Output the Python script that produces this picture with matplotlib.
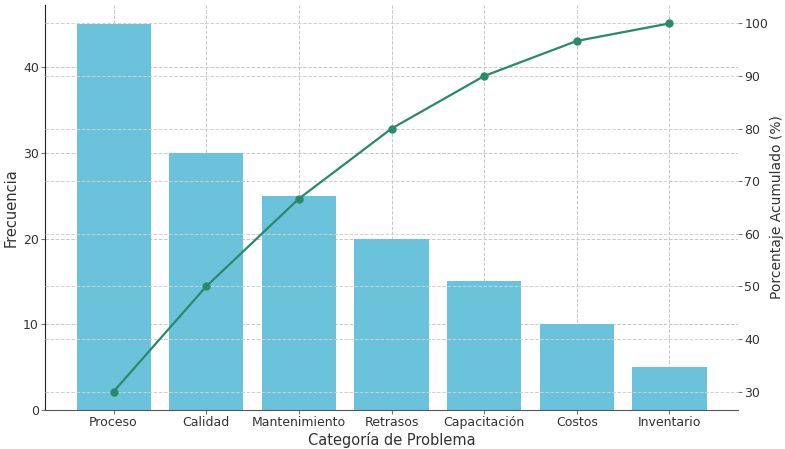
import numpy as np
import matplotlib
matplotlib.use('Agg')
from matplotlib import pyplot as plt

categorias = ['Proceso', 'Calidad', 'Mantenimiento', 'Retrasos', 'Capacitación', 'Costos', 'Inventario']
frecuencia = [45, 30, 25, 20, 15, 10, 5]

acumulado = np.cumsum(frecuencia) / np.sum(frecuencia) * 100

plt.rcParams['font.family'] = ['DejaVu Sans']
txt = '#333333'

fig = plt.figure(figsize=(7.85, 4.49), dpi=100)
ax = fig.add_axes([45 / 785, 39 / 449, 693 / 785, 405 / 449])

ax.bar(categorias, frecuencia, color='#6bc3db', width=0.8, zorder=2)
ax.set_xlabel('Categoría de Problema', fontsize=10.5, color=txt, labelpad=2)
ax.set_ylabel('Frecuencia', fontsize=10.5, color=txt, labelpad=3)
ax.grid(True, linestyle='--', color='#c8c8c8', linewidth=0.7, zorder=0)
ax.set_axisbelow(True)
ax.tick_params(labelsize=9, labelcolor=txt, color='#777777', length=3, pad=1.5)

ax2 = ax.twinx()
ax2.plot(categorias, acumulado, color='#2a8a68', marker='o', markersize=5, linewidth=1.6, zorder=3)
ax2.set_ylabel('Porcentaje Acumulado (%)', fontsize=10, color=txt, labelpad=1)
ax2.grid(True, linestyle='--', color='#d0d0d0', linewidth=0.7)
ax2.tick_params(labelsize=9, labelcolor=txt, color='#777777', length=3, pad=1.5)

for a in (ax, ax2):
    a.spines['top'].set_visible(False)
    a.spines['right'].set_visible(False)
ax.spines['left'].set_color('#222222')
ax.spines['bottom'].set_color('#555555')
ax2.spines['left'].set_visible(False)
ax2.spines['bottom'].set_visible(False)

fig.savefig('out.png', dpi=100)
